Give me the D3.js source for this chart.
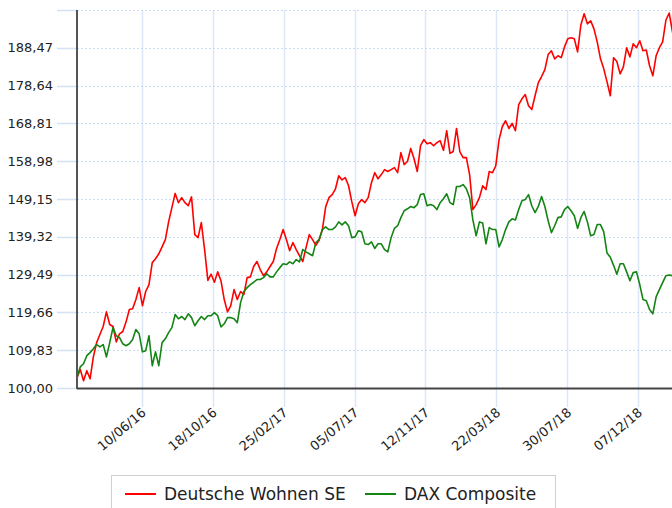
<!DOCTYPE html>
<html>
<head>
<meta charset="utf-8">
<title>Deutsche Wohnen SE vs DAX Composite</title>
<script src="https://d3js.org/d3.v7.min.js"></script>
<style>
    body { margin: 0; padding: 0; background: #fff; }
    svg { display: block; font-family: 'DejaVu Sans', Verdana, sans-serif; }
    .tick-label { fill: #222; font-size: 13px; }
    .legend-label { fill: #222; font-size: 17px; }
</style>
</head>
<body>
<div id="chart"></div>
<script>
    // series sampled every 6 days from the start date
    const startDate = new Date(2016, 1, 12);
    const stepDays = 6;

    const dwValues = [
        102.7, 104.8, 101.9, 104.5, 102.4, 108.1, 111.8, 113.9, 116.0, 119.8,
        116.5, 116.0, 112.0, 114.1, 114.7, 117.2, 120.4, 120.6, 123.0, 126.1,
        121.4, 125.1, 126.9, 132.6, 133.6, 134.9, 136.7, 138.6, 143.2, 146.9,
        150.6, 148.2, 149.5, 148.2, 147.4, 149.7, 139.9, 139.1, 143.0, 136.0,
        128.0, 129.6, 127.5, 130.2, 127.9, 123.0, 119.8, 121.4, 125.6, 123.0,
        125.1, 124.3, 128.7, 128.9, 131.6, 132.9, 130.8, 129.2, 130.2, 131.6,
        132.9, 136.3, 138.6, 141.2, 138.6, 135.7, 137.8, 136.0, 134.4, 132.9,
        136.5, 139.9, 138.6, 137.1, 138.4, 141.2, 147.1, 149.5, 150.3, 151.8,
        155.2, 154.1, 154.7, 152.6, 148.4, 144.8, 147.9, 149.0, 148.2, 149.5,
        153.4, 156.0, 154.4, 155.5, 156.8, 156.3, 156.8, 157.3, 156.0, 161.2,
        158.1, 158.9, 162.3, 159.7, 156.3, 163.0, 164.6, 163.5, 163.8, 163.0,
        163.8, 164.3, 161.8, 166.9, 161.0, 161.5, 167.5, 161.5, 159.9, 159.9,
        155.5, 146.4, 147.7, 149.5, 152.6, 151.6, 156.3, 156.0, 157.8, 164.6,
        168.0, 169.5, 167.5, 168.8, 166.9, 173.7, 175.2, 176.3, 173.4, 172.4,
        176.0, 179.4, 181.0, 182.8, 186.7, 187.7, 185.6, 186.4, 185.9, 188.7,
        190.8, 191.1, 190.8, 187.4, 194.4, 197.3, 194.7, 195.5, 193.4, 190.0,
        185.6, 183.0, 179.6, 176.0, 185.9, 184.9, 181.7, 183.5, 188.5, 186.1,
        189.5, 188.5, 190.3, 187.7, 187.9, 183.8, 181.2, 186.4, 188.5, 190.0,
        195.7, 197.5, 192.6, 189.5
    ];

    const daxValues = [
        102.7, 105.5, 106.3, 108.4, 109.2, 110.2, 111.3, 110.7, 111.3, 108.1,
        111.8, 115.7, 113.6, 113.1, 111.5, 111.0, 111.5, 112.6, 115.2, 114.1,
        109.4, 109.7, 113.6, 105.8, 109.4, 105.8, 111.8, 112.8, 114.4, 115.7,
        119.1, 118.0, 118.6, 117.8, 119.3, 118.3, 116.2, 117.5, 118.6, 117.8,
        118.8, 118.8, 119.6, 118.8, 115.9, 116.7, 118.3, 118.3, 118.0, 117.0,
        122.2, 125.1, 126.1, 126.9, 127.5, 128.2, 128.2, 128.7, 129.7, 128.9,
        128.9, 130.2, 131.3, 132.3, 132.1, 132.8, 132.3, 133.4, 132.8, 136.0,
        135.4, 134.9, 134.4, 137.8, 138.6, 141.2, 141.9, 141.2, 141.2, 141.9,
        143.2, 142.4, 143.2, 142.2, 139.1, 139.3, 140.9, 140.6, 137.5, 137.3,
        138.0, 136.3, 137.5, 137.5, 136.0, 135.4, 139.1, 141.5, 142.2, 144.3,
        146.1, 146.6, 147.2, 146.9, 147.7, 150.3, 150.5, 147.4, 147.7, 147.4,
        146.4, 148.2, 149.2, 150.5, 148.2, 147.7, 152.4, 152.4, 152.9, 151.8,
        149.5, 143.7, 139.6, 143.2, 142.9, 137.5, 141.7, 141.2, 141.2, 136.7,
        138.6, 141.2, 143.2, 144.0, 143.7, 146.4, 148.7, 149.0, 150.3, 147.4,
        145.6, 147.2, 149.8, 147.2, 143.5, 140.4, 142.2, 144.3, 144.5, 146.4,
        147.2, 146.1, 144.8, 141.5, 144.3, 145.9, 143.2, 139.6, 139.9, 142.5,
        142.5, 140.6, 135.1, 134.0, 131.9, 129.6, 132.3, 132.3, 130.2, 127.9,
        130.0, 130.2, 126.9, 123.0, 122.7, 120.4, 119.3, 123.7, 125.6, 127.4,
        129.2, 129.4, 129.2, 131.3
    ];

    const yTicks = [100, 109.83, 119.66, 129.49, 139.32, 149.15, 158.98, 168.81, 178.64, 188.47, 198.30];
    const xTicks = ["2016-06-10", "2016-10-18", "2017-02-25", "2017-07-05", "2017-11-12", "2018-03-22", "2018-07-30", "2018-12-07"];
    const seriesNames = ["Deutsche Wohnen SE", "DAX Composite"];
    const seriesColors = ["#ff0000", "#148414"];

    const width = 672, height = 508;
    const margin = { left: 77, top: 10, bottom: 388 };

    const dates = dwValues.map((d, i) => d3.timeDay.offset(startDate, i * stepDays));
    const series = [dwValues, daxValues].map((vals, k) => ({
        name: seriesNames[k],
        color: seriesColors[k],
        points: vals.map((v, i) => ({ date: dates[i], value: v }))
    }));

    const x = d3.scaleTime()
        .domain([startDate, d3.timeDay.offset(startDate, 1098)])
        .range([margin.left, margin.left + 1098 * 0.5453]);

    const y = d3.scaleLinear()
        .domain([100, 198.30])
        .range([margin.bottom, margin.top]);

    const locale = d3.formatLocale({ decimal: ",", thousands: ".", grouping: [3], currency: ["", " €"] });
    const fmtY = locale.format(".2f");
    const fmtX = d3.timeFormat("%d/%m/%y");
    const parse = d3.timeParse("%Y-%m-%d");

    const svg = d3.select("#chart")
        .append("svg")
        .attr("width", width)
        .attr("height", height);

    svg.append("rect").attr("width", width).attr("height", height).attr("fill", "#fff");

    // vertical grid lines (reach below the axis as ticks)
    svg.append("g")
        .selectAll("line")
        .data(xTicks)
        .enter()
        .append("line")
        .attr("x1", d => Math.round(x(parse(d))) + 0.5)
        .attr("x2", d => Math.round(x(parse(d))) + 0.5)
        .attr("y1", margin.top)
        .attr("y2", 407)
        .attr("stroke", "#dbe7f6")
        .attr("stroke-width", 1.5);

    // horizontal grid lines
    const hg = svg.append("g");
    hg.selectAll("line.grid")
        .data(yTicks)
        .enter()
        .append("line")
        .attr("class", "grid")
        .attr("x1", margin.left)
        .attr("x2", width)
        .attr("y1", d => Math.round(y(d)) + 0.5)
        .attr("y2", d => Math.round(y(d)) + 0.5)
        .attr("stroke", "#c9dbf2")
        .attr("stroke-dasharray", "2,2");
    hg.selectAll("line.tk")
        .data(yTicks)
        .enter()
        .append("line")
        .attr("class", "tk")
        .attr("x1", 57)
        .attr("x2", margin.left)
        .attr("y1", d => Math.round(y(d)) + 0.5)
        .attr("y2", d => Math.round(y(d)) + 0.5)
        .attr("stroke", "#d3e2f5")
        .attr("stroke-width", 1.5);

    // y labels (top grid line has no label)
    svg.append("g")
        .selectAll("text")
        .data(yTicks.slice(0, -1))
        .enter()
        .append("text")
        .attr("class", "tick-label")
        .attr("x", 53)
        .attr("y", d => y(d))
        .attr("dy", "0.36em")
        .attr("text-anchor", "end")
        .text(d => fmtY(d));

    // x labels
    svg.append("g")
        .selectAll("text")
        .data(xTicks)
        .enter()
        .append("text")
        .attr("class", "tick-label")
        .attr("text-anchor", "end")
        .attr("transform", d => `translate(${x(parse(d)) + 5},${414}) rotate(-40)`)
        .text(d => fmtX(parse(d)));

    // lines
    svg.append("clipPath").attr("id", "plot-clip")
        .append("rect")
        .attr("x", margin.left)
        .attr("y", 0)
        .attr("width", width - margin.left)
        .attr("height", margin.bottom);

    const line = d3.line()
        .x(d => x(d.date))
        .y(d => y(d.value));

    svg.append("g")
        .attr("clip-path", "url(#plot-clip)")
        .selectAll("path")
        .data(series)
        .enter()
        .append("path")
        .attr("d", d => line(d.points))
        .attr("fill", "none")
        .attr("stroke", d => d.color)
        .attr("stroke-width", 1.6)
        .attr("stroke-linejoin", "round");

    // axes
    svg.append("line")
        .attr("x1", margin.left).attr("x2", margin.left)
        .attr("y1", margin.top).attr("y2", margin.bottom + 1)
        .attr("stroke", "#555").attr("stroke-width", 2);
    svg.append("line")
        .attr("x1", margin.left).attr("x2", width)
        .attr("y1", margin.bottom + 0.5).attr("y2", margin.bottom + 0.5)
        .attr("stroke", "#444").attr("stroke-width", 2);

    // legend
    const legend = svg.append("g");
    legend.append("rect")
        .attr("x", 111.5).attr("y", 475.5)
        .attr("width", 444).attr("height", 40)
        .attr("fill", "#fff")
        .attr("stroke", "#d0d0d0");

    const legendX = [125, 365];
    series.forEach((s, k) => {
        legend.append("line")
            .attr("x1", legendX[k]).attr("x2", legendX[k] + 31)
            .attr("y1", 494).attr("y2", 494)
            .attr("stroke", s.color).attr("stroke-width", 2);
        legend.append("text")
            .attr("class", "legend-label")
            .attr("x", legendX[k] + 39)
            .attr("y", 500)
            .text(s.name);
    });
</script>
</body>
</html>
